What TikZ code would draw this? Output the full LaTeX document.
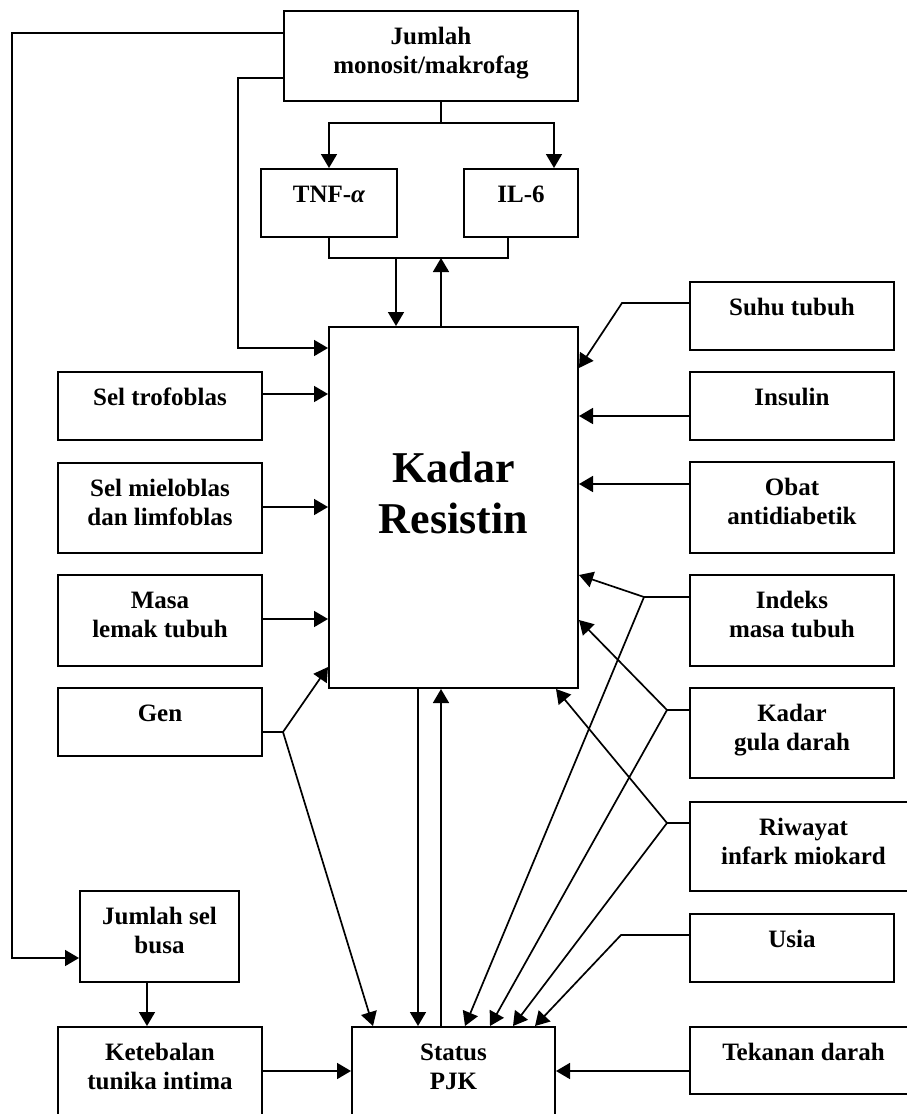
\documentclass[tikz,border=0pt]{standalone}
\usepackage{fontspec}
\setmainfont{Liberation Serif}
\usetikzlibrary{arrows.meta}

\tikzset{
  box/.style n args={3}{draw, line width=2pt, inner sep=0pt, anchor=north west,
    execute at begin node={\begin{minipage}[t][#2pt][t]{#1pt}\centering\vspace*{#3pt}\strut},
    execute at end node={\end{minipage}}},
  txt/.style={font=\bfseries\fontsize{25}{29}\selectfont},
  bigtxt/.style={font=\bfseries\fontsize{44}{51}\selectfont},
}

\begin{document}
\begin{tikzpicture}[x=1pt,y=-1pt,line width=1.7pt,>={Triangle[length=14pt,width=16pt]}]
\useasboundingbox (0,0) rectangle (906,1114);
% top: monocytes and cytokines
\node[box={294}{90}{13},txt] (mono) at (283,10) {Jumlah\\monosit/makrofag};
\node[box={136}{68}{13},txt] (tnf) at (260,168) {TNF-{\itshape α}};
\node[box={114}{68}{13},txt] (il6) at (463,168) {IL-6};
% centre
\node[box={249}{361}{120},bigtxt] (kadar) at (328,326) {Kadar\\Resistin};
\node[box={203}{100}{13},txt] (status) at (351,1026) {Status\\PJK};
% left column
\node[box={204}{68}{13},txt] (trof) at (57,371) {Sel trofoblas};
\node[box={204}{90}{13},txt] (mielo) at (57,462) {Sel mieloblas\\dan limfoblas};
\node[box={204}{91}{13},txt] (masa) at (57,574) {Masa\\lemak tubuh};
\node[box={204}{68}{13},txt] (gen) at (57,687) {Gen};
\node[box={159}{91}{13},txt] (busa) at (79,890) {Jumlah sel\\busa};
\node[box={204}{100}{13},txt] (tebal) at (57,1026) {Ketebalan\\tunika intima};
% right column
\node[box={204}{68}{13},txt] (suhu) at (689,281) {Suhu tubuh};
\node[box={204}{68}{13},txt] (insulin) at (689,371) {Insulin};
\node[box={204}{91}{13},txt] (obat) at (689,461) {Obat\\antidiabetik};
\node[box={204}{91}{13},txt] (imt) at (689,574) {Indeks\\masa tubuh};
\node[box={204}{90}{13},txt] (gula) at (689,687) {Kadar\\gula darah};
\node[box={227}{89}{13},txt] (riwayat) at (689,801) {Riwayat\\infark miokard};
\node[box={204}{68}{13},txt] (usia) at (689,913) {Usia};
\node[box={227}{67}{13},txt] (tekanan) at (689,1026) {Tekanan darah};

% monocytes -> foam cells, resistin, cytokines
\draw[->] (mono.west |- 0,33) -- (12,33) |- (busa.west |- 0,958);
\draw[->] (mono.west |- 0,78) -- (238,78) |- (kadar.west |- 0,348);
\draw (mono.south -| 441,0) -- (441,123);
\draw[->] (441,123) -| (tnf.north);
\draw[->] (441,123) -| (il6.north -| 554,0);
\draw (tnf.south) |- (508,258) -- (il6.south -| 508,0);
\draw[->] (396,258) -- (kadar.north -| 396,0);
\draw[->] (kadar.north -| 441,0) -- (441,258);
% left inputs
\draw[->] (trof.east |- 0,394) -- (kadar.west |- 0,394);
\draw[->] (mielo.east |- 0,507) -- (kadar.west |- 0,507);
\draw[->] (masa.east |- 0,619) -- (kadar.west |- 0,619);
\draw (gen.east |- 0,732) -- (283,732) coordinate (gensplit);
\draw[->] (gensplit) -- (kadar.west |- 0,667);
\draw[->] (gensplit) -- (status.north -| 373,0);
\draw[->] (busa.south -| 147,0) -- (tebal.north -| 147,0);
\draw[->] (tebal.east |- 0,1071) -- (status.west |- 0,1071);
% resistin <-> PJK
\draw[->] (kadar.south -| 418,0) -- (status.north -| 418,0);
\draw[->] (status.north -| 441,0) -- (kadar.south -| 441,0);
% right inputs
\draw[->] (suhu.west |- 0,303) -- (622,303) -- (kadar.east |- 0,368);
\draw[->] (insulin.west |- 0,416) -- (kadar.east |- 0,416);
\draw[->] (obat.west |- 0,484) -- (kadar.east |- 0,484);
\draw (imt.west |- 0,597) -- (644,597) coordinate (imtsplit);
\draw[->] (imtsplit) -- (kadar.east |- 0,575);
\draw[->] (imtsplit) -- (status.north -| 465,0);
\draw (gula.west |- 0,710) -- (667,710) coordinate (gulasplit);
\draw[->] (gulasplit) -- (kadar.east |- 0,620);
\draw[->] (gulasplit) -- (status.north -| 490,0);
\draw (riwayat.west |- 0,823) -- (667,823) coordinate (riwsplit);
\draw[->] (riwsplit) -- (kadar.south -| 556,0);
\draw[->] (riwsplit) -- (status.north -| 513,0);
\draw[->] (usia.west |- 0,935) -- (621,935) -- (status.north -| 535,0);
\draw[->] (tekanan.west |- 0,1071) -- (status.east |- 0,1071);
\end{tikzpicture}
\end{document}
